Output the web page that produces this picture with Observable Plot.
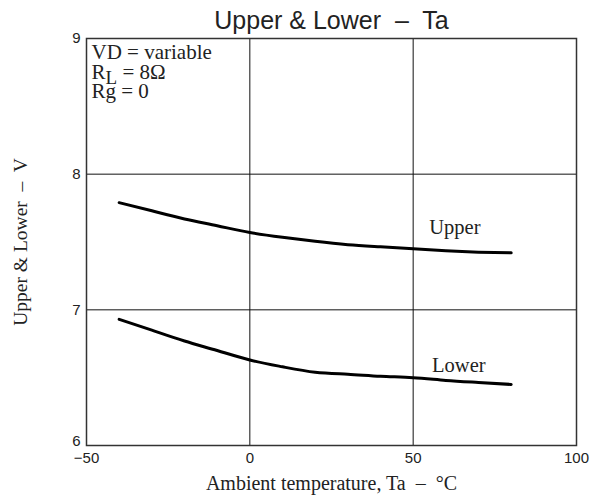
<!DOCTYPE html>
<html><head><meta charset="utf-8">
<script src="https://cdn.jsdelivr.net/npm/d3@7"></script>
<script src="https://cdn.jsdelivr.net/npm/@observablehq/plot@0.6"></script>
<style>body{margin:0;background:#fff}</style>
</head><body><div id="chart"></div>
<script>
const temps = [-40, -30, -20, -10, 0, 10, 20, 30, 40, 50, 60, 70, 80];
const upper = [7.79, 7.73, 7.67, 7.62, 7.57, 7.535, 7.505, 7.48, 7.465, 7.45, 7.435, 7.425, 7.42];
const lower = [6.93, 6.85, 6.77, 6.70, 6.63, 6.58, 6.54, 6.525, 6.51, 6.50, 6.48, 6.465, 6.45];
const xTicks = [-50, 0, 50, 100];
const yTicks = [6, 7, 8, 9];
const xGrid = [0, 50];
const yGrid = [7, 8];
const seriesNames = ["Upper", "Lower"];
const labelTemp = 60;
const titleText = "Upper & Lower\u00a0 \u2013\u00a0 Ta";
const xLabel = "Ambient temperature, Ta\u00a0 \u2013\u00a0 \u00b0C";
const yLabel = "Upper & Lower\u00a0 \u2013\u00a0 V";
const noteLine1 = "VD = variable";
const noteR = "R", noteSub = "L", noteRest = "= 8\u03a9";
const noteLine3 = "Rg = 0";

const upperData = temps.map((t, i) => ({t, v: upper[i]}));
const lowerData = temps.map((t, i) => ({t, v: lower[i]}));
const li = temps.indexOf(labelTemp);
const upperLabel = [{t: labelTemp, v: upper[li], name: seriesNames[0]}];
const lowerLabel = [{t: labelTemp, v: lower[li], name: seriesNames[1]}];

const serif = "Liberation Serif, Times New Roman, serif";
const sans = "Liberation Sans, Arial, sans-serif";
const noteStyle = {frameAnchor: "top-left", textAnchor: "start", lineAnchor: "bottom", fontFamily: serif, fontSize: 21, fill: "#222"};
const yAxisStyle = {tickSize: 0, tickPadding: 6, fontSize: 15, label: null, fill: "#222", tickFormat: d3.format("d")};

const plot = Plot.plot({
  width: 601, height: 495,
  marginLeft: 86, marginRight: 25, marginTop: 38, marginBottom: 50,
  x: {domain: [-50, 100]},
  y: {domain: [6, 9]},
  style: {fontFamily: sans, background: "white", color: "#222", overflow: "visible"},
  marks: [
    Plot.gridX(xGrid, {stroke: "#111", strokeOpacity: 1, strokeWidth: 1}),
    Plot.gridY(yGrid, {stroke: "#111", strokeOpacity: 1, strokeWidth: 1}),
    Plot.frame({stroke: "#333", strokeWidth: 1.5}),
    Plot.axisX(xTicks, {tickSize: 0, tickPadding: 7, fontSize: 15, label: null, fill: "#222", tickFormat: d3.format("d")}),
    Plot.axisY(yTicks.slice(1), yAxisStyle),
    Plot.axisY(yTicks.slice(0, 1), {...yAxisStyle, dy: -4}),
    Plot.line(upperData, {x: "t", y: "v", curve: "natural", stroke: "black", strokeWidth: 3}),
    Plot.line(lowerData, {x: "t", y: "v", curve: "natural", stroke: "black", strokeWidth: 3}),
    Plot.text(upperLabel, {x: "t", y: "v", text: "name", dx: 9, dy: -23, fontFamily: serif, fontSize: 20.5, fill: "#222"}),
    Plot.text(lowerLabel, {x: "t", y: "v", text: "name", dx: 13, dy: -15, fontFamily: serif, fontSize: 20.5, fill: "#222"}),
    Plot.text([noteLine1], {...noteStyle, text: d => d, dx: 5, dy: 20}),
    Plot.text([noteR], {...noteStyle, text: d => d, dx: 5, dy: 40}),
    Plot.text([noteSub], {...noteStyle, text: d => d, dx: 19, dy: 45, fontSize: 19}),
    Plot.text([noteRest], {...noteStyle, text: d => d, dx: 36, dy: 40}),
    Plot.text([noteLine3], {...noteStyle, text: d => d, dx: 5, dy: 59}),
    Plot.text([titleText], {frameAnchor: "top", text: d => d, lineAnchor: "bottom", dy: -10, fontFamily: sans, fontSize: 25, fill: "#222"}),
    Plot.text([xLabel], {frameAnchor: "bottom", text: d => d, lineAnchor: "bottom", dy: 44, fontFamily: serif, fontSize: 20, fill: "#222"}),
    Plot.text([yLabel], {frameAnchor: "left", text: d => d, textAnchor: "middle", lineAnchor: "bottom", rotate: -90, dx: -60, fontFamily: serif, fontSize: 19.5, fill: "#222"})
  ]
});
document.getElementById("chart").appendChild(plot);
</script>
</body></html>
